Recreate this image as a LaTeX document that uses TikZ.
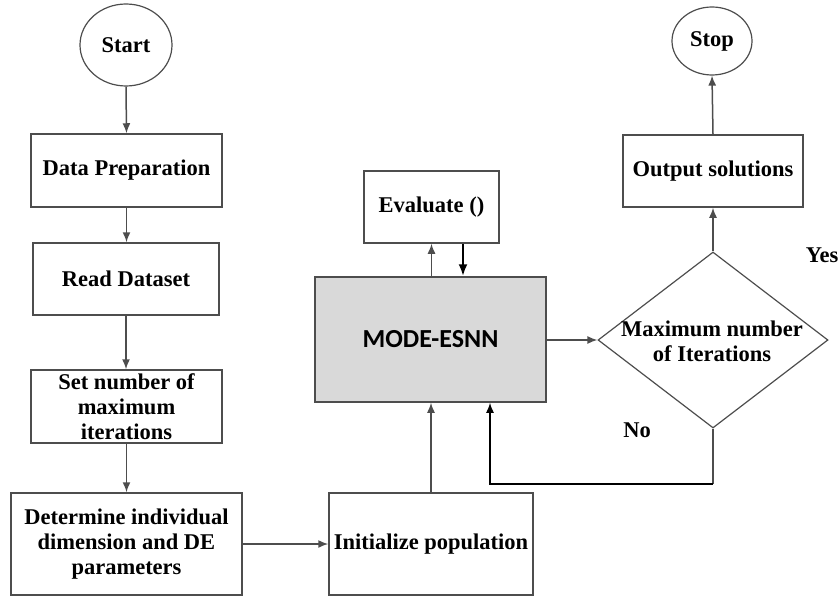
\documentclass[tikz,border=0pt]{standalone}
\usepackage{fontspec}
\setmainfont{Liberation Serif}
\newfontfamily\modefont{Carlito}
\usetikzlibrary{arrows.meta,shapes.geometric}
\definecolor{ln}{HTML}{4D4D4D}
\definecolor{modefill}{HTML}{D9D9D9}
\begin{document}
\begin{tikzpicture}[x=1pt,y=-1pt,
  every node/.style={font=\fontsize{22.5}{25}\selectfont\bfseries, align=center, inner sep=0pt},
  boxnode/.style={draw=ln, line width=1.5pt, rectangle},
  ovalnode/.style={draw=ln, line width=1.2pt, ellipse},
  arr/.style={draw=ln, line width=1.5pt, -{Latex[length=10pt,width=8pt]}},
  blkarr/.style={draw=black, line width=1.5pt, -{Latex[length=10pt,width=8pt]}},
  thickarr/.style={draw=black, line width=2.4pt, -{Latex[length=12pt,width=9pt]}}]
\useasboundingbox (0,0) rectangle (840,596);
% nodes
\node[ovalnode, minimum width=92pt, minimum height=82pt] (start) at (126,45) {Start};
\node[boxnode, minimum width=191pt, minimum height=73pt] (dp) at (126.5,170.5) {Data Preparation};
\node[boxnode, minimum width=186pt, minimum height=72pt] (rd) at (126,279) {Read Dataset};
\node[boxnode, minimum width=191pt, minimum height=73pt] (setn) at (126.5,406.5) {Set number of\\maximum\\iterations};
\node[boxnode, minimum width=231pt, minimum height=102pt] (det) at (126.5,544) {Determine individual\\dimension and DE\\parameters};
\node[boxnode, minimum width=204pt, minimum height=102pt] (init) at (431,544) {Initialize population};
\node[boxnode, fill=modefill, minimum width=231pt, minimum height=125pt, font=\modefont\fontsize{26}{30}\selectfont\bfseries] (mode) at (430.5,339.5) {MODE-ESNN};
\node[boxnode, minimum width=135pt, minimum height=72pt] (eval) at (431.5,207) {Evaluate ()};
\node[draw=ln, line width=1.2pt, diamond, minimum width=230pt, minimum height=176pt] (dec) at (713,340) {};
\node (dectext) at (712,341) {Maximum number\\of Iterations};
\node[boxnode, minimum width=180pt, minimum height=72pt] (out) at (713,171) {Output solutions};
\node[ovalnode, minimum width=80pt, minimum height=68pt] (stop) at (712,41) {Stop};
\node (yes) at (822,255) {Yes};
\node (no) at (637,430) {No};
\coordinate (ret) at (490,484);
% connectors
\draw[arr] (start.south) -- (dp.north);
\draw[arr] (dp.south) -- (dp.south |- rd.north);
\draw[arr] (rd.south) -- (rd.south |- setn.north);
\draw[arr] (setn.south) -- (det.north);
\draw[arr] (det.east) -- (init.west);
\draw[arr] (init.north) -- (init.north |- mode.south);
\draw[arr] (mode.north -| eval.south) -- (eval.south);
\draw[thickarr] ([xshift=31.5pt]eval.south) -- ([xshift=31.5pt]eval.south |- mode.north);
\draw[arr] (mode.east |- dec.west) -- (dec.west);
\draw[arr] (dec.north) -- (out.south);
\draw[arr] (out.north) -- (stop.south);
\draw[draw=ln, line width=1.5pt] (dec.south) -- (dec.south |- ret);
\draw[blkarr] (dec.south |- ret) -- (ret) -- (ret |- mode.south);
\end{tikzpicture}
\end{document}
